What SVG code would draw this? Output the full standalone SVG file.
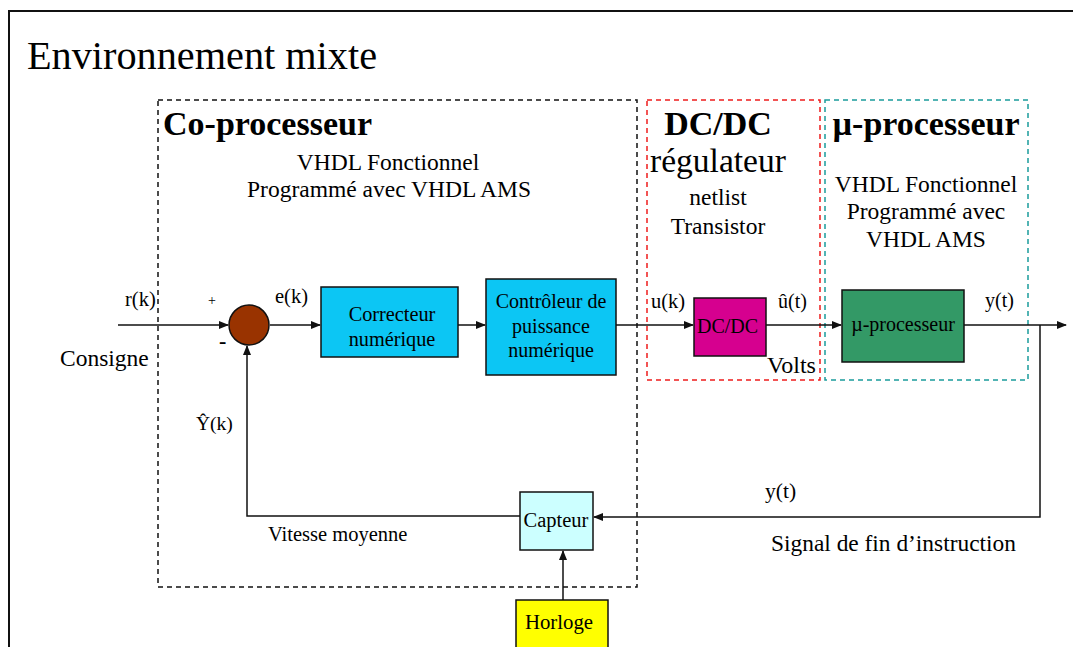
<svg xmlns="http://www.w3.org/2000/svg" width="1073" height="647" viewBox="0 0 1073 647">
<style>
text{font-family:"Liberation Serif","Times New Roman",serif;fill:#000}
.c{text-anchor:middle}
.b{font-weight:bold}
.box{stroke:#111;stroke-width:1.5}
.ln{stroke:#111;stroke-width:1.5;fill:none}
.dash{fill:none;stroke-width:1.5;stroke-dasharray:5 4}
</style>
<defs>
<marker id="ar" markerWidth="10" markerHeight="8" refX="9" refY="4" orient="auto" markerUnits="userSpaceOnUse">
<path d="M0,0 L10,4 L0,8 z" fill="#111"/>
</marker>
</defs>
<rect width="1073" height="647" fill="#fff"/>
<path d="M9,647 V11 H1073" fill="none" stroke="#111" stroke-width="2"/>
<text x="27" y="69" font-size="41" textLength="350" lengthAdjust="spacingAndGlyphs">Environnement mixte</text>

<g id="coprocesseur">
<rect class="dash" x="158" y="100" width="479" height="487" stroke="#111"/>
<text x="163" y="135" font-size="34" class="b">Co-processeur</text>
<text x="388" y="170" font-size="23.5" class="c">VHDL Fonctionnel</text>
<text x="389" y="197" font-size="23.5" class="c">Programmé avec VHDL AMS</text>
</g>
<g id="dcdc-regulateur">
<rect class="dash" x="647" y="100" width="173" height="280" stroke="#ee1c1c"/>
<text x="718" y="135" font-size="34" class="b c">DC/DC</text>
<text x="718" y="172" font-size="33.5" class="c">régulateur</text>
<text x="718" y="205" font-size="23.5" class="c">netlist</text>
<text x="718" y="234" font-size="23.5" class="c">Transistor</text>
</g>
<g id="uprocesseur-zone">
<rect class="dash" x="825" y="100" width="203" height="280" stroke="#1a9c9c"/>
<text x="926" y="135" font-size="34" class="b c">µ-processeur</text>
<text x="926" y="192" font-size="23.5" class="c">VHDL Fonctionnel</text>
<text x="926" y="219" font-size="23.5" class="c">Programmé avec</text>
<text x="926" y="247" font-size="23.5" class="c">VHDL AMS</text>
</g>

<g id="connectors">
<line class="ln" x1="118" y1="325" x2="228" y2="325" marker-end="url(#ar)"/>
<line class="ln" x1="270" y1="325" x2="320" y2="325" marker-end="url(#ar)"/>
<line class="ln" x1="458" y1="325" x2="485" y2="325" marker-end="url(#ar)"/>
<line class="ln" x1="616" y1="325" x2="693" y2="325" marker-end="url(#ar)"/>
<line class="ln" x1="766" y1="325" x2="841" y2="325" marker-end="url(#ar)"/>
<line class="ln" x1="964" y1="325" x2="1066" y2="325" marker-end="url(#ar)"/>
<polyline class="ln" points="1040,325 1040,517 594,517" marker-end="url(#ar)"/>
<polyline class="ln" points="520,516 247,516 247,346" marker-end="url(#ar)"/>
<line class="ln" x1="563" y1="600" x2="563" y2="551" marker-end="url(#ar)"/>
</g>

<g id="sommateur">
<circle cx="249" cy="325" r="20" fill="#993300" stroke="#111" stroke-width="1.5"/>
</g>
<g id="labels">
<text x="125" y="306" font-size="20.5">r(k)</text>
<text x="208" y="305" font-size="14">+</text>
<text x="219" y="348" font-size="22" class="b">-</text>
<text x="275" y="303" font-size="20.5">e(k)</text>
<text x="60" y="366" font-size="23.5">Consigne</text>
<text x="651" y="308" font-size="20.5">u(k)</text>
<text x="778" y="308" font-size="20">û(t)</text>
<text x="767" y="373" font-size="24">Volts</text>
<text x="985" y="307" font-size="20">y(t)</text>
<text x="765" y="498" font-size="21.5">y(t)</text>
<text x="771" y="551" font-size="23.4">Signal de fin d’instruction</text>
<text x="196" y="430" font-size="19.5">Ŷ(k)</text>
<text x="268" y="541" font-size="20.5">Vitesse moyenne</text>
</g>

<g id="correcteur">
<rect class="box" x="321" y="287" width="137" height="70" fill="#0cc6f4"/>
<text x="392" y="321" font-size="20.3" class="c">Correcteur</text>
<text x="392" y="346" font-size="20.3" class="c">numérique</text>
</g>
<g id="controleur">
<rect class="box" x="486" y="279" width="130" height="96" fill="#0cc6f4"/>
<text x="551" y="308" font-size="20" class="c">Contrôleur de</text>
<text x="551" y="333" font-size="20" class="c">puissance</text>
<text x="551" y="357" font-size="20" class="c">numérique</text>
</g>
<g id="dcdc">
<rect class="box" x="694" y="298" width="72" height="58" fill="#d6008f"/>
<text x="697" y="333" font-size="20">DC/DC</text>
</g>
<g id="uprocesseur">
<rect class="box" x="842" y="290" width="122" height="72" fill="#339966"/>
<text x="903" y="331" font-size="20" class="c">µ-processeur</text>
</g>
<g id="capteur">
<rect class="box" x="520" y="492" width="73" height="58" fill="#ccffff"/>
<text x="556" y="527" font-size="20.5" class="c">Capteur</text>
</g>
<g id="horloge">
<rect class="box" x="516" y="600" width="92" height="52" fill="#ffff00"/>
<text x="559" y="629" font-size="20.8" class="c">Horloge</text>
</g>
</svg>
